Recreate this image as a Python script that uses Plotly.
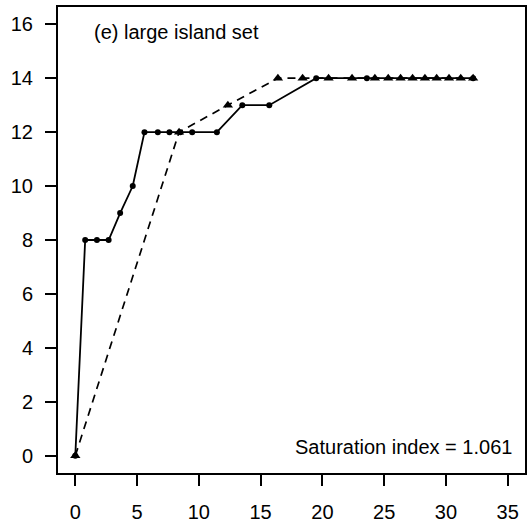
import plotly.graph_objects as go

# Solid series (circles): x, y
solid_x = [0, 0.8, 1.75, 2.7, 3.63, 4.65, 5.6, 6.68, 7.62, 8.5, 9.46, 11.46, 13.52, 15.7, 19.5, 23.6, 32.2]
solid_y = [0, 8, 8, 8, 9, 10, 12, 12, 12, 12, 12, 12, 13, 13, 14, 14, 14]

# Dashed series (triangles): x, y
dash_x = [0, 8.4, 12.35, 16.4, 18.4, 20.5, 22.4, 24.25, 25.33, 26.33, 27.3, 28.3, 29.25, 30.25, 31.2, 32.2]
dash_y = [0, 12, 13, 14, 14, 14, 14, 14, 14, 14, 14, 14, 14, 14, 14, 14]

x_ticks = [0, 5, 10, 15, 20, 25, 30, 35]
y_ticks = [0, 2, 4, 6, 8, 10, 12, 14, 16]

panel_label = "(e) large island set"
index_label = "Saturation index = 1.061"

FONT = "Liberation Sans, Arial, Helvetica, sans-serif"

fig = go.Figure()
fig.add_trace(go.Scatter(
    x=dash_x, y=dash_y, mode="lines+markers",
    line=dict(color="black", width=1.7, dash="8px,6px"),
    marker=dict(symbol="triangle-up", size=9, color="black"),
    showlegend=False, cliponaxis=False))
fig.add_trace(go.Scatter(
    x=solid_x, y=solid_y, mode="lines+markers",
    line=dict(color="black", width=1.8),
    marker=dict(symbol="circle", size=6, color="black"),
    showlegend=False, cliponaxis=False))

fig.add_annotation(x=0.072, y=0.975, xref="paper", yref="paper",
                   text=panel_label, showarrow=False,
                   xanchor="left", yanchor="top",
                   font=dict(family=FONT, size=20, color="black"))
fig.add_annotation(x=0.977, y=0.027, xref="paper", yref="paper",
                   text=index_label, showarrow=False,
                   xanchor="right", yanchor="bottom",
                   font=dict(family=FONT, size=20, color="black"))

axis_common = dict(showline=True, linecolor="black", linewidth=2, mirror=True,
                   ticks="outside", ticklen=11, tickwidth=1.6, tickcolor="black",
                   showgrid=False, zeroline=False, automargin=False,
                   tickfont=dict(family=FONT, size=20, color="black"))

fig.update_xaxes(range=[-1.4, 36.4], tickvals=x_ticks,
                 ticktext=[str(v) for v in x_ticks], ticklabelstandoff=9,
                 **axis_common)
fig.update_yaxes(range=[-0.64, 16.64], tickvals=y_ticks,
                 ticktext=[str(v) for v in y_ticks], ticklabelstandoff=8,
                 **axis_common)

fig.update_layout(width=531, height=525,
                  margin=dict(l=58, r=6, t=7, b=52),
                  plot_bgcolor="white", paper_bgcolor="white")

fig.write_html("out.html")
